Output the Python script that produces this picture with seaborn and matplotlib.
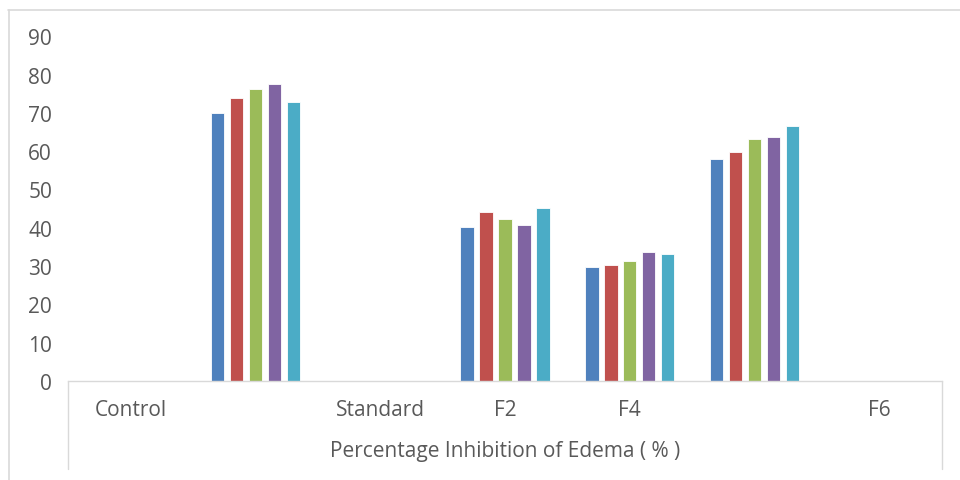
import numpy as np
import pandas as pd
import matplotlib
matplotlib.use("Agg")
import matplotlib.pyplot as plt
from matplotlib.lines import Line2D
import seaborn as sns

# Category slots along the x axis (some slots carry no bars)
category_keys = ["k0", "k1", "k2", "k3", "k4", "k5", "k6"]
tick_labels = ["Control", "", "Standard", "F2", "F4", "", "F6"]

# Percentage inhibition for each of the five series, per category slot
series_names = ["Series 1", "Series 2", "Series 3", "Series 4", "Series 5"]
series_1 = [np.nan, 70.0, np.nan, 40.2, 29.8, 58.0, np.nan]
series_2 = [np.nan, 73.8, np.nan, 44.1, 30.3, 59.9, np.nan]
series_3 = [np.nan, 76.2, np.nan, 42.3, 31.3, 63.2, np.nan]
series_4 = [np.nan, 77.6, np.nan, 40.8, 33.8, 63.8, np.nan]
series_5 = [np.nan, 72.8, np.nan, 45.2, 33.2, 66.6, np.nan]

y_ticks = [0, 10, 20, 30, 40, 50, 60, 70, 80, 90]
x_title = "Percentage Inhibition of Edema ( % )"

colors = ["#4F81BD", "#C0504D", "#9BBB59", "#8064A2", "#4BACC6"]

rows = []
for name, vals in zip(series_names, [series_1, series_2, series_3, series_4, series_5]):
    for key, v in zip(category_keys, vals):
        rows.append({"category": key, "series": name, "value": v})
df = pd.DataFrame(rows)

sns.set_style("white")
plt.rcParams["font.family"] = ["Open Sans", "DejaVu Sans"]

W, H = 960, 481
fig = plt.figure(figsize=(W / 100, H / 100), dpi=100)
left, right, top, bottom = 68, 942, 37.3, 382
ax = fig.add_axes([left / W, 1 - bottom / H, (right - left) / W, (bottom - top) / H])

sns.barplot(data=df, x="category", y="value", hue="series",
            order=category_keys, hue_order=series_names, palette=colors,
            width=0.76, gap=0.3, ax=ax, legend=False,
            edgecolor="#ffffff", linewidth=0.6, saturation=1)

ax.set_xlim(-0.5, len(category_keys) - 0.5)
ax.set_ylim(0, 90)
ax.set_yticks(y_ticks)
ax.set_yticklabels([str(t) for t in y_ticks])
ax.set_xticks(range(len(category_keys)))
ax.set_xticklabels(tick_labels)

fs = 15
ax.tick_params(axis="y", length=0, pad=11.5, labelsize=fs, labelcolor="#595959")
ax.tick_params(axis="x", length=0, pad=13, labelsize=fs, labelcolor="#595959")

for s in ["top", "right", "left"]:
    ax.spines[s].set_visible(False)
ax.spines["bottom"].set_color("#D9D9D9")
ax.spines["bottom"].set_linewidth(1.0)
ax.grid(False)

ax.set_ylabel("")
ax.set_xlabel(x_title, fontsize=fs, color="#595959")
ax.xaxis.set_label_coords(0.5, -(452 - bottom) / (bottom - top))
ax.xaxis.label.set_va("center")

# Box lines framing the category label band
for xp in (left, right):
    fig.add_artist(Line2D([xp / W, xp / W], [1 - bottom / H, 1 - 470 / H],
                          color="#D9D9D9", linewidth=1.0))

# Outer chart frame (top and left edges)
fig.add_artist(Line2D([8 / W, 1.0], [1 - 11 / H, 1 - 11 / H], color="#D9D9D9", linewidth=1.2))
fig.add_artist(Line2D([9 / W, 9 / W], [1 - 11 / H, 0.0], color="#D9D9D9", linewidth=1.2))

fig.savefig("out.png", dpi=100)
